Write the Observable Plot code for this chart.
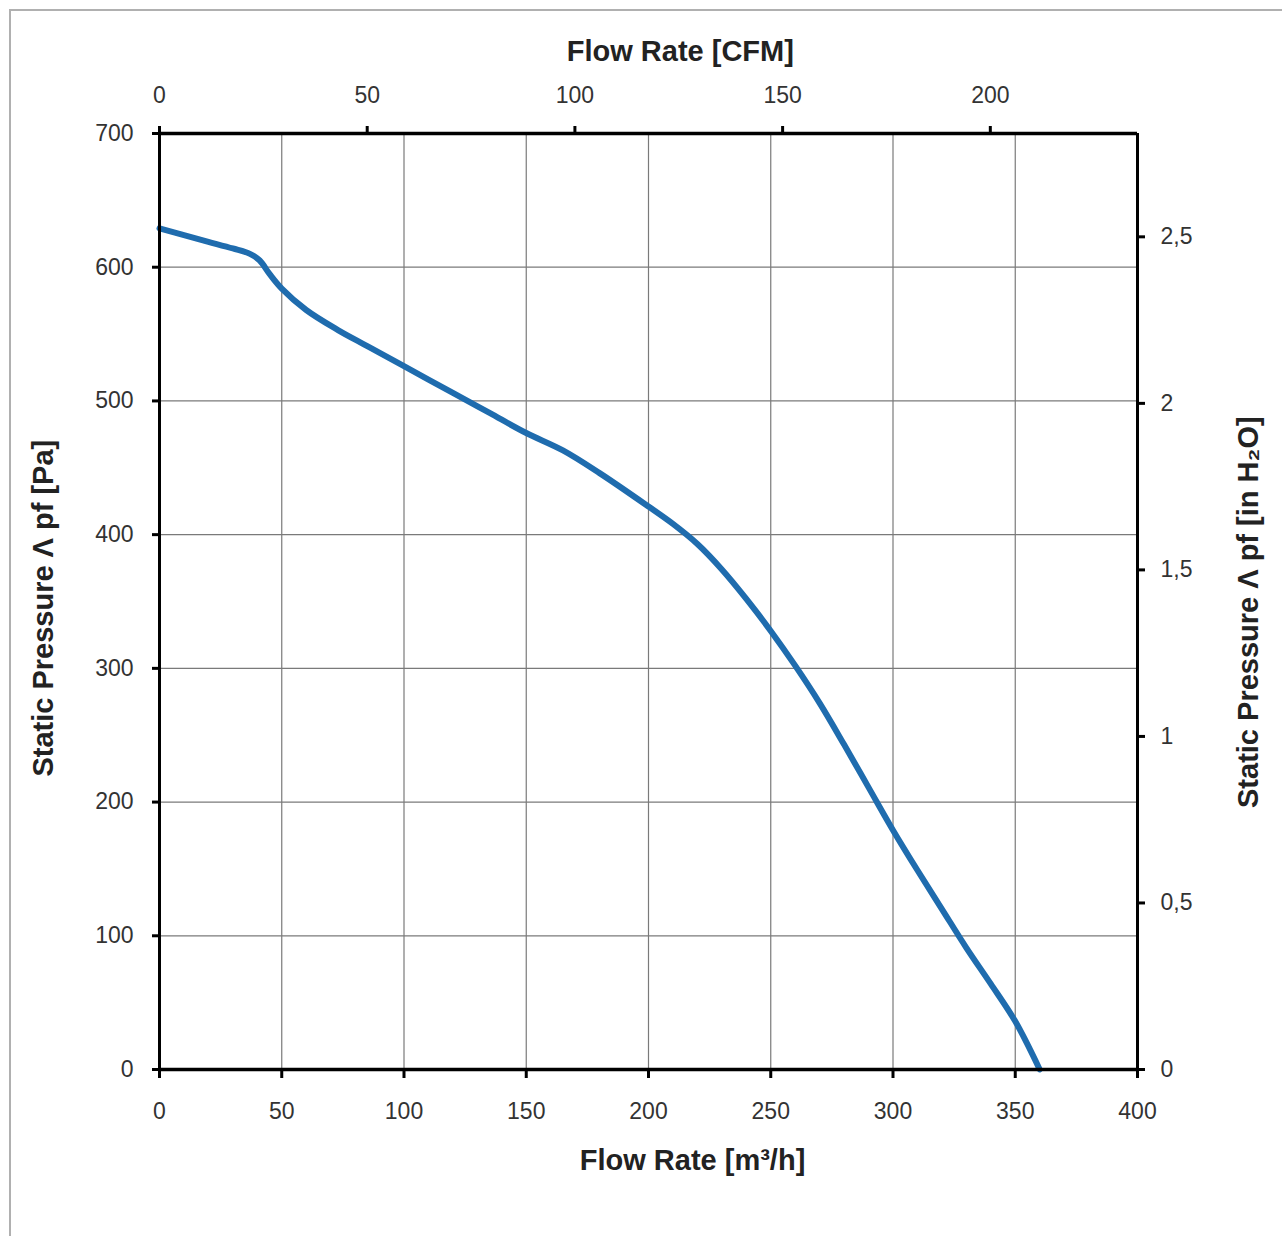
<!DOCTYPE html>
<html>
<head>
<meta charset="utf-8">
<script src="https://cdn.jsdelivr.net/npm/d3@7"></script>
<script src="https://cdn.jsdelivr.net/npm/@observablehq/plot@0.6"></script>
<style>
  html, body { margin: 0; padding: 0; background: white; }
  #wrap { position: relative; width: 1282px; height: 1236px; }
  #border { position: absolute; left: 9px; top: 9px; right: -5px; bottom: -5px;
            border-left: 2px solid #b0b0b0; border-top: 2px solid #b0b0b0; pointer-events: none; }
</style>
</head>
<body>
<div id="wrap"><div id="border"></div></div>
<script>
// Flow rate [m³/h]
const flow = [0, 10, 20, 30, 37, 41, 45, 50, 60, 73, 85, 100, 120, 135, 150, 165, 180, 200, 210, 220, 230, 240, 250, 260, 270, 280, 290, 300, 310, 320, 330, 340, 350, 360];
// Static pressure [Pa]
const pressure = [629, 624, 619, 614, 610, 605, 595, 584, 568, 553, 541, 526, 506, 491, 476, 463, 446, 421, 408, 393, 374, 352, 328, 302, 274, 243, 211, 179, 149, 120, 91, 64, 36, 0];

const xTicks = [0, 50, 100, 150, 200, 250, 300, 350, 400];
const yTicks = [0, 100, 200, 300, 400, 500, 600, 700];
const cfmTicks = [0, 50, 100, 150, 200];
const inH2OTicks = [0, 0.5, 1, 1.5, 2, 2.5];

const M3H_PER_CFM = 1.69901;
const PA_PER_INH2O = 249.089;

const data = flow.map((f, i) => ({flow: f, pressure: pressure[i]}));

const fmtComma = v => String(Math.round(v * 10) / 10).replace(".", ",");

const titleStyle = {fontSize: 29, fontWeight: "bold", fill: "#222"};

const chart = Plot.plot({
  width: 1282,
  height: 1236,
  marginLeft: 159,
  marginRight: 145,
  marginTop: 133,
  marginBottom: 167,
  x: {domain: [0, 400]},
  y: {domain: [0, 700]},
  style: {fontFamily: "'Liberation Sans', Arial, sans-serif", fontSize: "23px", background: "transparent", overflow: "visible"},
  marks: [
    Plot.gridX(xTicks, {stroke: "#7a7a7a", strokeOpacity: 1, strokeWidth: 1.2}),
    Plot.gridY(yTicks, {stroke: "#7a7a7a", strokeOpacity: 1, strokeWidth: 1.2}),
    Plot.line(data, {x: "flow", y: "pressure", stroke: "#1f6cae", strokeWidth: 6, curve: "catmull-rom", strokeLinecap: "round"}),
    Plot.ruleX([0, 400], {stroke: "black", strokeWidth: 3}),
    Plot.ruleY([0, 700], {stroke: "black", strokeWidth: 3.5}),
    Plot.axisX(xTicks, {anchor: "bottom", tickSize: 9, tickPadding: 24, strokeWidth: 3, stroke: "black", fill: "#333", label: null}),
    Plot.axisX(cfmTicks.map(c => c * M3H_PER_CFM), {anchor: "top", tickSize: 8, tickPadding: 23, strokeWidth: 3, stroke: "black", fill: "#333", label: null,
      tickFormat: d => String(Math.round(d / M3H_PER_CFM))}),
    Plot.axisY(yTicks, {anchor: "left", tickSize: 7, tickPadding: 19, strokeWidth: 3, stroke: "black", fill: "#333", label: null}),
    Plot.axisY(inH2OTicks.map(v => v * PA_PER_INH2O), {anchor: "right", tickSize: 7, tickPadding: 16, strokeWidth: 3, stroke: "black", fill: "#333", label: null,
      tickFormat: d => fmtComma(d / PA_PER_INH2O)}),
    Plot.text([{x: 218, y: -68, t: "Flow Rate [m³/h]"}], {x: "x", y: "y", text: "t", ...titleStyle}),
    Plot.text([{x: 213, y: 761, t: "Flow Rate [CFM]"}], {x: "x", y: "y", text: "t", ...titleStyle}),
    Plot.text([{x: -47.4, y: 345, t: "Static Pressure Λ pf [Pa]"}], {x: "x", y: "y", text: "t", rotate: -90, ...titleStyle}),
    Plot.text([{x: 445.4, y: 342, t: "Static Pressure Λ pf [in H₂O]"}], {x: "x", y: "y", text: "t", rotate: -90, ...titleStyle})
  ]
});
chart.style.position = "absolute";
chart.style.left = "0";
chart.style.top = "0";
document.getElementById("wrap").appendChild(chart);
</script>
</body>
</html>
